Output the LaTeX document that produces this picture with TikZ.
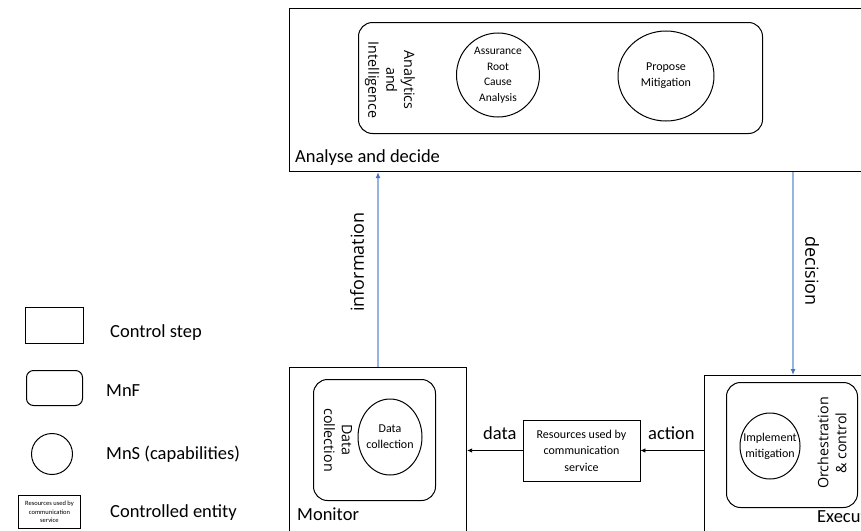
\documentclass[tikz,border=0pt]{standalone}
\usepackage{fontspec}
\setmainfont{Carlito}
\newfontfamily\segoe{Open Sans}
\usetikzlibrary{arrows.meta,shapes.geometric}

\definecolor{flowline}{RGB}{150,180,226}
\definecolor{flowhead}{RGB}{68,114,196}

\begin{document}
\begin{tikzpicture}[x=1pt,y=-1pt,
  stepbox/.style={draw=black,line width=1.1pt,rectangle,inner sep=0pt,anchor=north west},
  mnfbox/.style={draw=black,line width=1pt,rounded corners=14pt,inner sep=0pt,anchor=north west},
  mns/.style={draw=black,line width=1pt,ellipse,inner sep=0pt},
  mnstext/.style={inner sep=0pt,align=center,font=\fontsize{12}{16}\selectfont},
  entity/.style={draw=black,line width=0.9pt,inner sep=0pt,align=center,font=\fontsize{12}{16.5}\selectfont},
  steplabel/.style={anchor=base west,inner sep=0pt,font=\fontsize{18.5}{22}\selectfont},
  mnflabel/.style={inner sep=0pt,align=center,font=\segoe\fontsize{14.3}{17.8}\selectfont},
  flowlabel/.style={inner sep=0pt,font=\segoe\fontsize{18}{22}\selectfont},
  flow/.style={draw=flowline,line width=1.2pt,-{Latex[length=6pt,width=5pt,color=flowhead]}},
  act/.style={draw=black,line width=0.8pt,-{Latex[length=5pt,width=4.5pt]}},
]
\useasboundingbox (0,0) rectangle (861,530);
\clip (0,0) rectangle (861,530);

% ---- Analyse and decide ----
\node[stepbox,minimum width=620pt,minimum height=163pt] (analyse) at (289,8) {};
\node[mnfbox,minimum width=404pt,minimum height=111pt] (analytics) at (358,22) {};
\node[mnflabel,rotate=-90] (analyticslbl) at (390,80) {Analytics\\and\\Intelligence};
\node[mns,minimum width=83pt,minimum height=84pt] (rca) at (498,75) {};
\node[mnstext,font=\fontsize{11.5}{15.5}\selectfont] (rcatext) at (rca.center) {Assurance\\Root\\Cause\\Analysis};
\node[mns,minimum width=96pt,minimum height=90pt] (propose) at (666,76) {};
\node[mnstext] (proposetext) at (propose.center) {Propose\\Mitigation};
\node[steplabel] (analyselbl) at (295,162) {Analyse and decide};

% ---- Monitor ----
\node[stepbox,minimum width=177pt,minimum height=200pt] (monitor) at (289,367) {};
\node[mnfbox,minimum width=122pt,minimum height=121pt] (datamnf) at (313,379) {};
\node[mnflabel,rotate=-90] (datamnflbl) at (338,440) {Data\\collection};
\node[mns,minimum width=64pt,minimum height=76pt] (datacol) at (390,437) {};
\node[mnstext] (datacoltext) at (datacol.center) {Data\\collection};
\node[steplabel] (monitorlbl) at (297,520) {Monitor};

% ---- Execute ----
\node[stepbox,minimum width=200pt,minimum height=200pt] (execute) at (704,375) {};
\node[mnfbox,minimum width=131pt,minimum height=125pt] (orchmnf) at (726,382) {};
\node[mns,minimum width=60pt,minimum height=66pt] (implement) at (770,446) {};
\node[mnstext] (implementtext) at (implement.center) {Implement\\mitigation};
\node[mnflabel,rotate=90] (orchlbl) at (832,443) {Orchestration\\\& control};
\node[steplabel] (executelbl) at (817,522) {Execute};

% ---- Controlled entity ----
\node[entity,minimum width=117pt,minimum height=61pt] (res) at (581.5,450.5) {Resources used by\\communication\\service};

% ---- Connectors ----
\draw[act] (res.east -| execute.west) -- (res.east);
\draw[act] (res.west) -- (res.west -| monitor.east);
\node[steplabel] (datalbl) at (483,439) {data};
\node[steplabel] (actionlbl) at (648,439) {action};

\coordinate (infox) at (378,0);
\coordinate (decx) at (793,0);
\draw[flow] (infox |- monitor.north) -- (infox |- analyse.south);
\draw[flow] (decx |- analyse.south) -- (decx |- execute.north);
\node[flowlabel,rotate=90] (infolbl) at (357,262) {information};
\node[flowlabel,rotate=-90] (declbl) at (812,271) {decision};

% ---- Legend ----
\node[stepbox,minimum width=58pt,minimum height=36pt] (lgstep) at (25,307) {};
\node[mnfbox,rounded corners=7pt,minimum width=56pt,minimum height=35pt] (lgmnf) at (26,370) {};
\node[mns,minimum size=41pt] (lgmns) at (52,454) {};
\node[entity,anchor=north west,minimum width=62pt,minimum height=33pt,font=\fontsize{6.5}{8.5}\selectfont] (lgent) at (18,495) {Resources used by\\communication\\service};
\node[steplabel] (lgsteplbl) at (110,337) {Control step};
\node[steplabel] (lgmnflbl) at (106,396) {MnF};
\node[steplabel] (lgmnslbl) at (106,459) {MnS (capabilities)};
\node[steplabel] (lgentlbl) at (110,517) {Controlled entity};
\end{tikzpicture}
\end{document}
